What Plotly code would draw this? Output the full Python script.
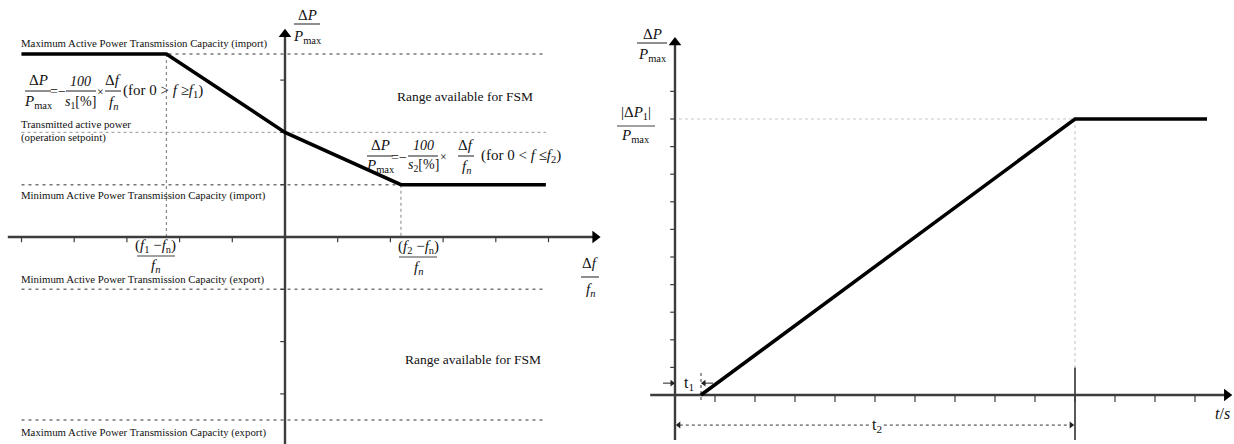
import plotly.graph_objects as go

# ---------------- data ----------------
# Left: frequency-sensitive-mode droop characteristic (per-unit axes)
droop_df = [-5.0, -2.25, 0.0, 2.2, 4.95]      # Δf / fn
droop_dp = [3.5, 3.5, 2.0, 1.0, 1.0]          # ΔP / Pmax
level_values = [3.5, 2.0, 1.0, -1.0, -3.5]
level_styles = ["dash", "dot", "dash", "dash", "dash"]
level_span = [-5.0, 4.95]
left_xticks = [-5, -4, -3, -2, -1, 1, 2, 3, 4, 5]
left_yticks = [-3, -2, -1, 1, 2, 3]
left_xaxis_span = [-5.26, 5.98]
left_yaxis_span = [-3.96, 3.97]

# Right: active power ramp after delay t1, reaching |ΔP1| at t2
ramp_t = [0.65, 10.0, 13.3]
ramp_p = [0.0, 10.0, 10.0]
t1 = 0.65
t2 = 10.0
right_xticks = [1, 2, 3, 4, 5, 6, 7, 8, 9, 10, 11, 12, 13]
right_yticks = [1, 2, 3, 4, 5, 6, 7, 8, 9, 10, 11]
right_xaxis_span = [-0.62, 13.92]
right_yaxis_span = [-1.63, 12.95]

W, H = 1234, 444
SERIF = "Liberation Serif"
AXIS_COL = "#3c3c3c"
TXT = "#111"

# pixel size of one data unit on each axis
LX, LY = 52.7, 52.3
RX, RY = 40.0, 27.6

fig = go.Figure()


def line(xs, ys, axes, color, width, dash="solid"):
    fig.add_trace(go.Scatter(x=xs, y=ys, mode="lines", xaxis=axes[0], yaxis=axes[1],
                             line=dict(color=color, width=width, dash=dash),
                             hoverinfo="skip", showlegend=False))


def ticks(values, lo, hi, axes, vertical):
    xs, ys = [], []
    for v in values:
        if vertical:
            xs += [v, v, None]
            ys += [lo, hi, None]
        else:
            xs += [lo, hi, None]
            ys += [v, v, None]
    line(xs, ys, axes, AXIS_COL, 1.2)


def head(axes, x, y, symbol, size, color="black"):
    fig.add_trace(go.Scatter(x=[x], y=[y], mode="markers", xaxis=axes[0], yaxis=axes[1],
                             marker=dict(symbol=symbol, size=size, color=color,
                                         line=dict(width=0)),
                             hoverinfo="skip", showlegend=False))


def px(x):
    return x / W


def py(y):
    return 1 - y / H


def text(x, y, s, size=10.8, anchor="left", color=TXT, bg=None):
    fig.add_annotation(x=px(x), y=py(y), xref="paper", yref="paper", text=s,
                       showarrow=False, xanchor=anchor, yanchor="middle",
                       font=dict(family=SERIF, size=size, color=color),
                       bgcolor=bg, borderpad=0)


def bar(x0, x1, y):
    fig.add_shape(type="line", xref="paper", yref="paper", x0=px(x0), x1=px(x1),
                  y0=py(y), y1=py(y), line=dict(color="#444", width=1.2))


def frac(cx, yn, yb, yd, num, den, half, size=15):
    text(cx, yn, num, size=size, anchor="center")
    bar(cx - half, cx + half, yb)
    text(cx, yd, den, size=size, anchor="center")


L = ("x", "y")
R = ("x2", "y2")

# ---------------- left panel ----------------
for v, d in zip(level_values, level_styles):
    line(level_span, [v, v], L, "#777" if d == "dash" else "#aaa",
         1.4, "3px,4px" if d == "dash" else "dot")

# guide lines from the break points down to the frequency axis
line([droop_df[1], droop_df[1]], [droop_dp[1], 0], L, "#888", 1.2, "dot")
line([droop_df[3], droop_df[3]], [droop_dp[3], 0], L, "#999", 1.2, "dot")

# axes with arrow heads
line([left_xaxis_span[0], left_xaxis_span[1] - 5 / LX], [0, 0], L, AXIS_COL, 2.4)
line([0, 0], [left_yaxis_span[0], left_yaxis_span[1] - 5 / LY], L, AXIS_COL, 2.4)
head(L, left_xaxis_span[1] - 5 / LX, 0, "triangle-right", 11)
head(L, 0, left_yaxis_span[1] - 5 / LY, "triangle-up", 11)
ticks(left_xticks, 0, -0.1, L, True)
ticks(left_yticks, -0.09, 0, L, False)

# droop characteristic
line(droop_df, droop_dp, L, "black", 3.5)

# ---------------- right panel ----------------
line([0.1, t2], [ramp_p[1], ramp_p[1]], R, "#c8c8c8", 1.1, "dot")
line([t2, t2], [ramp_p[1], 1.0], R, "#c8c8c8", 1.1, "dot")
line([t2, t2], [1.0, right_yaxis_span[0]], R, "#222", 1.5)
line([t1, t1], [0.8, -0.2], R, "#555", 1.2, "dot")

line([right_xaxis_span[0], right_xaxis_span[1] - 5 / RX], [0, 0], R, AXIS_COL, 2.4)
line([0, 0], [right_yaxis_span[0], right_yaxis_span[1] - 5 / RY], R, AXIS_COL, 2.4)
head(R, right_xaxis_span[1] - 5 / RX, 0, "triangle-right", 11)
head(R, 0, right_yaxis_span[1] - 5 / RY, "triangle-up", 11)
ticks(right_xticks, 0, -0.25, R, True)
ticks(right_yticks, -0.12, 0, R, False)

line(ramp_t, ramp_p, R, "black", 3.5)

# t1 and t2 dimension markers
line([-0.3, -0.1], [0.43, 0.43], R, "#222", 1.0)
head(R, -3 / RX, 0.43, "triangle-right", 6, "#222")
line([t1 + 0.1, t1 + 0.3], [0.43, 0.43], R, "#222", 1.0)
head(R, t1 + 3 / RX, 0.43, "triangle-left", 6, "#222")
line([0.12, t2 - 0.12], [-1.09, -1.09], R, "#333", 1.0, "dot")
head(R, 3 / RX + 0.02, -1.09, "triangle-left", 6, "#222")
head(R, t2 - 3 / RX - 0.02, -1.09, "triangle-right", 6, "#222")

# ---------------- text ----------------
text(20, 44, "Maximum Active Power Transmission Capacity (import)")
text(20, 124, "Transmitted active power")
text(20, 137, "(operation setpoint)")
text(20, 195, "Minimum Active Power Transmission Capacity (import)")
text(20, 279, "Minimum Active Power Transmission Capacity (export)")
text(20, 432, "Maximum Active Power Transmission Capacity (export)")
text(465, 96, "Range available for FSM", size=13.5, anchor="center")
text(473, 359, "Range available for FSM", size=13.5, anchor="center")

PMAX = "<i>P</i><sub>max</sub>"
DP = "Δ<i>P</i>"
DF = "Δ<i>f</i>"
FN = "<i>f<sub>n</sub></i>"

# droop equation, f < fn
frac(38, 80, 91, 102, DP, PMAX, 13)
text(58, 91, "=−", size=14, anchor="center")
frac(81, 81, 91, 102, "<i>100</i>", "<i>s</i><sub>1</sub>[%]", 15, size=14)
text(100.5, 92, "×", size=12, anchor="center")
frac(113, 80, 91, 103, DF, FN, 8)
text(122, 91, "(for 0 > <i>f</i> ≥<i>f</i><sub>1</sub>)", size=15)

# droop equation, f > fn
frac(380, 145, 156, 166, DP, PMAX, 13)
text(399, 157, "=−", size=14, anchor="center")
frac(423, 145, 156, 166, "<i>100</i>", "<i>s</i><sub>2</sub>[%]", 15, size=14)
text(443, 157, "×", size=12, anchor="center")
frac(466, 145, 156, 167, DF, FN, 8)
text(480, 156, "(for 0 < <i>f</i> ≤<i>f</i><sub>2</sub>)", size=15)

# axis labels
frac(307, 15, 24, 37, DP, PMAX, 13)
frac(590, 263, 277, 290, DF, FN, 9)
frac(156, 246, 256, 266, "(<i>f</i><sub>1</sub> −<i>f</i><sub>n</sub>)", FN, 19)
frac(418, 247, 257, 268, "(<i>f</i><sub>2</sub> −<i>f</i><sub>n</sub>)", FN, 19)

frac(652, 34, 43, 55, DP, PMAX, 15)
frac(636, 113, 126, 136, "|Δ<i>P</i><sub>1</sub>|", PMAX, 19)
text(689, 383, "t<sub>1</sub>", size=16, anchor="center")
text(877, 425, "t<sub>2</sub>", size=16, anchor="center", bg="white")
text(1222, 413, "<i>t</i>/<i>s</i>", size=16, anchor="center")

# ---------------- layout ----------------
hidden = dict(visible=False, fixedrange=True)
fig.update_layout(
    width=W, height=H, margin=dict(l=0, r=0, t=0, b=0),
    paper_bgcolor="white", plot_bgcolor="white", showlegend=False,
    xaxis=dict(domain=[0, 620 / W], range=[-285 / LX, 335 / LX], **hidden),
    yaxis=dict(domain=[0, 1], range=[-207 / LY, 237 / LY], **hidden),
    xaxis2=dict(domain=[620 / W, 1], range=[-55 / RX, 559 / RX], anchor="y2", **hidden),
    yaxis2=dict(domain=[0, 1], range=[-49 / RY, 395 / RY], anchor="x2", **hidden),
)

fig.write_html("out.html")
